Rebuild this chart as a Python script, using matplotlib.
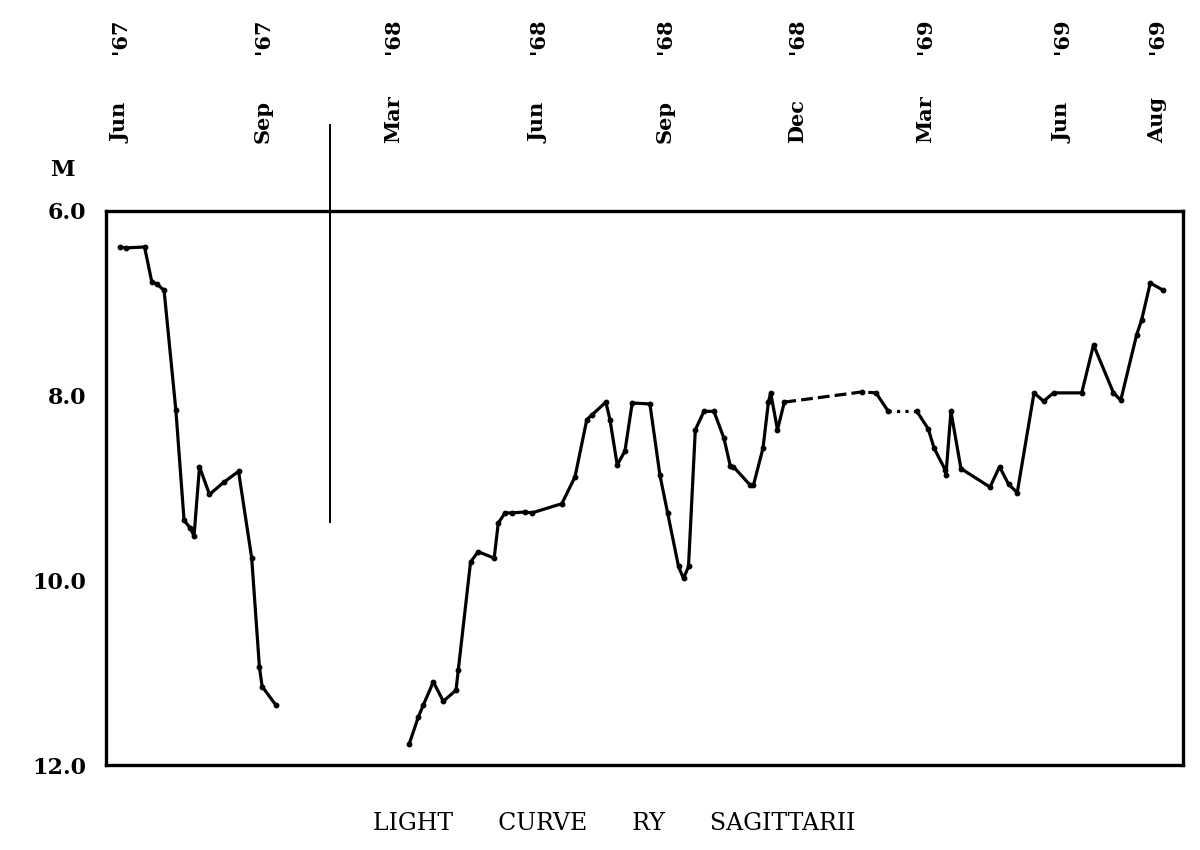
import matplotlib.pyplot as plt
from matplotlib import transforms

# x is in "chart months" counted from Jun 1967; the time axis is broken
# after Sep '67, so Sep '67 -> Mar '68 is squeezed together.
tick_pos = [0.0, 3.15, 6.01, 9.21, 12.0, 14.91, 17.73, 20.75, 22.84]
tick_month = ["Jun", "Sep", "Mar", "Jun", "Sep", "Dec", "Mar", "Jun", "Aug"]
tick_year = ["'67", "'67", "'68", "'68", "'68", "'68", "'69", "'69", "'69"]
break_x = 4.63

# 1967 run
x67 = [0.00, 0.13, 0.54, 0.70, 0.81, 0.97, 1.23, 1.41, 1.54, 1.63, 1.75,
       1.97, 2.28, 2.61, 2.90, 3.07, 3.13, 3.43]
m67 = [6.39, 6.40, 6.39, 6.77, 6.79, 6.86, 8.16, 9.35, 9.43, 9.52, 8.77,
       9.07, 8.94, 8.82, 9.76, 10.94, 11.15, 11.35]

# 1968-69 run
x68 = [6.37, 6.57, 6.68, 6.90, 7.12, 7.40, 7.45, 7.72, 7.89, 8.24, 8.33,
       8.48, 8.63, 8.92, 9.07, 9.73, 10.02, 10.28, 10.39, 10.70, 10.79,
       10.95, 11.12, 11.28, 11.67, 11.89, 12.06, 12.30, 12.41, 12.52,
       12.67, 12.86, 13.08, 13.30, 13.44, 13.51, 13.88, 13.95, 14.16,
       14.28, 14.33, 14.48, 14.63,
       16.34, 16.65, 16.92, 17.55,
       17.80, 17.93, 18.17, 18.19, 18.30, 18.52, 19.16, 19.37, 19.57,
       19.76, 20.13, 20.34, 20.56, 21.18, 21.44, 21.88, 22.04, 22.39,
       22.50, 22.69, 22.98]
m68 = [11.77, 11.48, 11.35, 11.10, 11.31, 11.19, 10.97, 9.80, 9.69, 9.76,
       9.38, 9.27, 9.27, 9.26, 9.27, 9.17, 8.88, 8.26, 8.21, 8.07, 8.26,
       8.75, 8.60, 8.08, 8.09, 8.86, 9.27, 9.85, 9.98, 9.85, 8.37, 8.17,
       8.17, 8.46, 8.76, 8.77, 8.97, 8.97, 8.57, 8.07, 7.97, 8.37, 8.07,
       7.96, 7.97, 8.17, 8.17,
       8.36, 8.57, 8.80, 8.86, 8.17, 8.79, 8.99, 8.77, 8.96, 9.05, 7.97,
       8.06, 7.97, 7.97, 7.45, 7.97, 8.05, 7.34, 7.18, 6.78, 6.86]

# index ranges of the 1968-69 run and how each piece is drawn
pieces = [(0, 43, "-"), (42, 45, "--"), (44, 46, "-"), (45, 47, ":"),
          (46, len(x68), "-")]

serif = ["DejaVu Serif"]

fig = plt.figure(figsize=(12, 8.5), dpi=100)
ax = fig.add_axes([0.0883, 0.10, 0.8975, 0.6518])

style = dict(color="black", lw=2.3, solid_capstyle="round")
ax.plot(x67, m67, "-", marker="o", ms=3.2, **style)
for i0, i1, ls in pieces:
    ax.plot(x68[i0:i1], m68[i0:i1], ls, **style)
ax.plot(x68, m68, "o", ms=3.2, color="black")

ax.set_xlim(-0.31, 23.41)
ax.set_ylim(12.0, 6.0)
ax.set_xticks([])
ax.set_yticks([6, 8, 10, 12])
ax.set_yticklabels(["6.0", "8.0", "10.0", "12.0"], family=serif,
                   fontsize=16, fontweight="bold")
ax.tick_params(axis="y", length=0, pad=14)
for s in ax.spines.values():
    s.set_linewidth(2.4)

# axis break marker, reaching up into the label area
ax.plot([break_x, break_x], [9.37, 5.07], color="black", lw=1.4,
        clip_on=False)

tr = transforms.blended_transform_factory(ax.transData, fig.transFigure)
for xp, mo, yr in zip(tick_pos, tick_month, tick_year):
    ax.text(xp, 1 - 143 / 850, mo, transform=tr, rotation=90, ha="center",
            va="bottom", family=serif, fontsize=15, fontweight="bold")
    ax.text(xp, 1 - 18 / 850, yr, transform=tr, rotation=90, ha="center",
            va="top", family=serif, fontsize=15, fontweight="bold")

fig.text(62 / 1200, 1 - 170 / 850, "M", ha="center", va="center",
         family=serif, fontsize=16, fontweight="bold")
fig.text(614 / 1200, 1 - 823 / 850,
         "LIGHT      CURVE      RY      SAGITTARII", ha="center",
         va="center", family=serif, fontsize=17)

fig.savefig("out.png", dpi=100, facecolor="white")
